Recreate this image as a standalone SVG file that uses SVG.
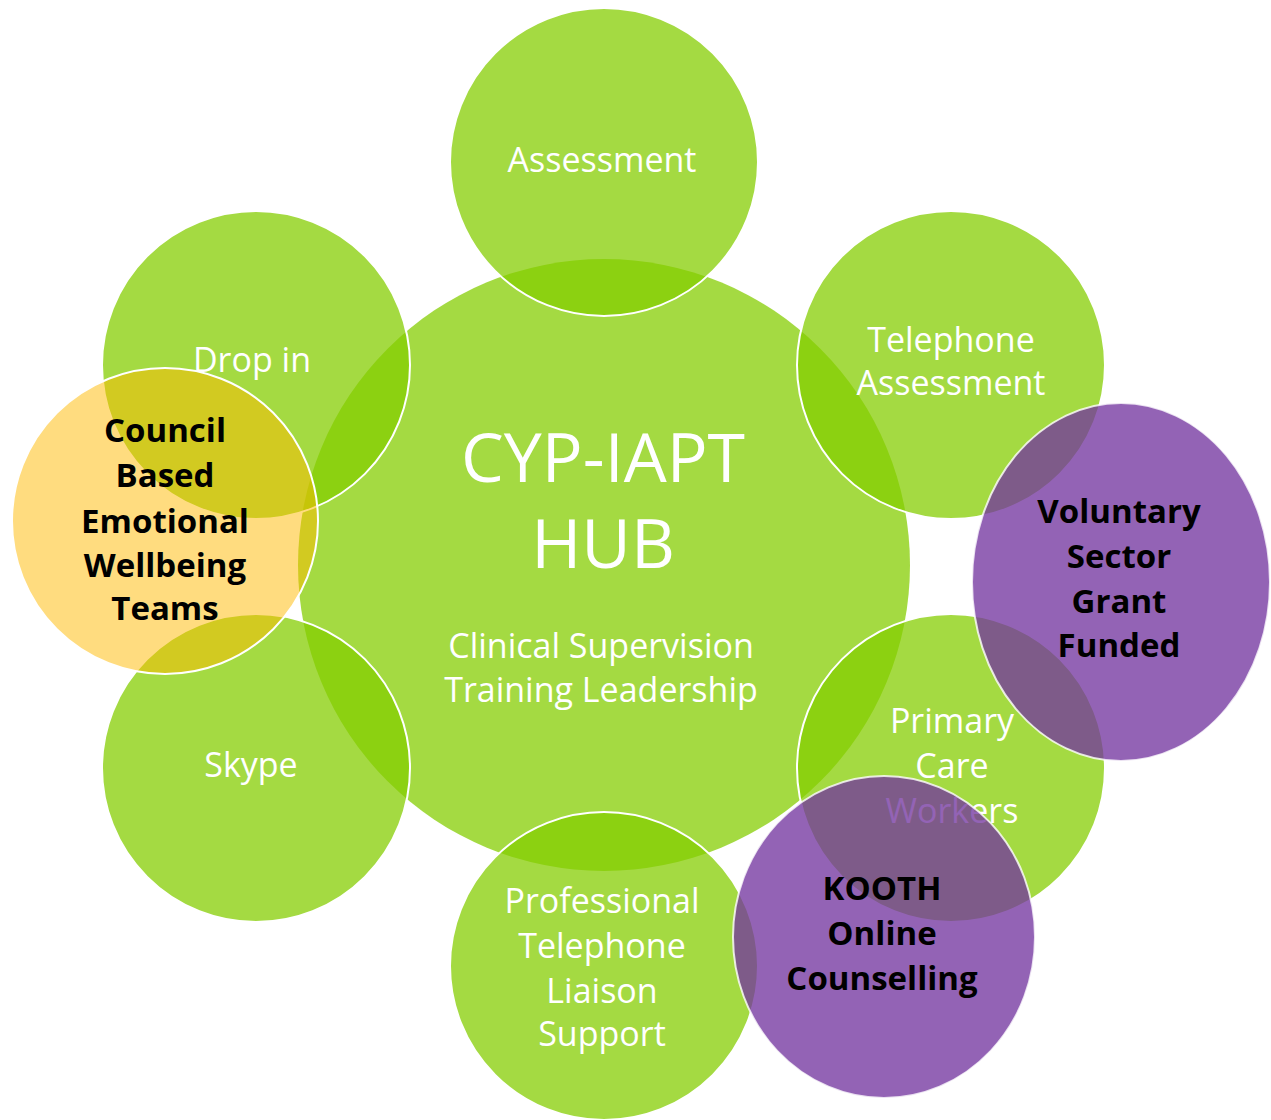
<svg xmlns="http://www.w3.org/2000/svg" width="1271" height="1120" viewBox="0 0 1271 1120">
<style>
.g{fill:#84cd00;fill-opacity:0.74}
.sat{fill:#84cd00;fill-opacity:0.74;stroke:#ffffff;stroke-width:2}
.yel{fill:#ffb900;fill-opacity:0.5;stroke:#ffffff;stroke-width:2}
.pur{fill:#73349f;fill-opacity:0.77;stroke:#ffffff;stroke-width:2;stroke-opacity:0.8}
.w{font-family:"Open Sans","Liberation Sans",sans-serif;font-size:34px;fill:#ffffff;text-anchor:middle}
.big{font-family:"Open Sans","Liberation Sans",sans-serif;font-size:68px;fill:#ffffff;text-anchor:middle}
.b{font-family:"Open Sans","Liberation Sans",sans-serif;font-size:33px;font-weight:bold;fill:#000000;text-anchor:middle}
</style>
<rect width="1271" height="1120" fill="#ffffff"/>
<g id="hub">
<circle class="g" cx="604" cy="565" r="306"/>
<text class="big" x="603" y="482">CYP-IAPT</text>
<text class="big" x="603" y="568">HUB</text>
<text class="w" x="601" y="658">Clinical Supervision</text>
<text class="w" x="601" y="702">Training Leadership</text>
</g>
<g id="assessment">
<circle class="sat" cx="604" cy="162" r="154"/>
<text class="w" x="602" y="172">Assessment</text>
</g>
<g id="telephone-assessment">
<circle class="sat" cx="951" cy="365" r="154"/>
<text class="w" x="951" y="352">Telephone</text>
<text class="w" x="951" y="395">Assessment</text>
</g>
<g id="primary-care">
<circle class="sat" cx="951" cy="768" r="154"/>
<text class="w" x="952" y="733">Primary</text>
<text class="w" x="952" y="778">Care</text>
<text class="w" x="952" y="823">Workers</text>
</g>
<g id="professional">
<circle class="sat" cx="604" cy="966" r="154"/>
<text class="w" x="602" y="913">Professional</text>
<text class="w" x="602" y="958">Telephone</text>
<text class="w" x="602" y="1003">Liaison</text>
<text class="w" x="602" y="1046">Support</text>
</g>
<g id="skype">
<circle class="sat" cx="256" cy="768" r="154"/>
<text class="w" x="251" y="777">Skype</text>
</g>
<g id="drop-in">
<circle class="sat" cx="256" cy="365" r="154"/>
<text class="w" x="252" y="372">Drop in</text>
</g>
<g id="council">
<circle class="yel" cx="165" cy="521" r="153"/>
<text class="b" x="165" y="442">Council</text>
<text class="b" x="165" y="487">Based</text>
<text class="b" x="165" y="533">Emotional</text>
<text class="b" x="165" y="577">Wellbeing</text>
<text class="b" x="165" y="620">Teams</text>
</g>
<g id="voluntary">
<ellipse class="pur" cx="1121" cy="582" rx="149" ry="179"/>
<text class="b" x="1119" y="523">Voluntary</text>
<text class="b" x="1119" y="568">Sector</text>
<text class="b" x="1119" y="613">Grant</text>
<text class="b" x="1119" y="657">Funded</text>
</g>
<g id="kooth">
<ellipse class="pur" cx="884" cy="937" rx="151" ry="161"/>
<text class="b" x="882" y="900">KOOTH</text>
<text class="b" x="882" y="945">Online</text>
<text class="b" x="882" y="990">Counselling</text>
</g>
</svg>
